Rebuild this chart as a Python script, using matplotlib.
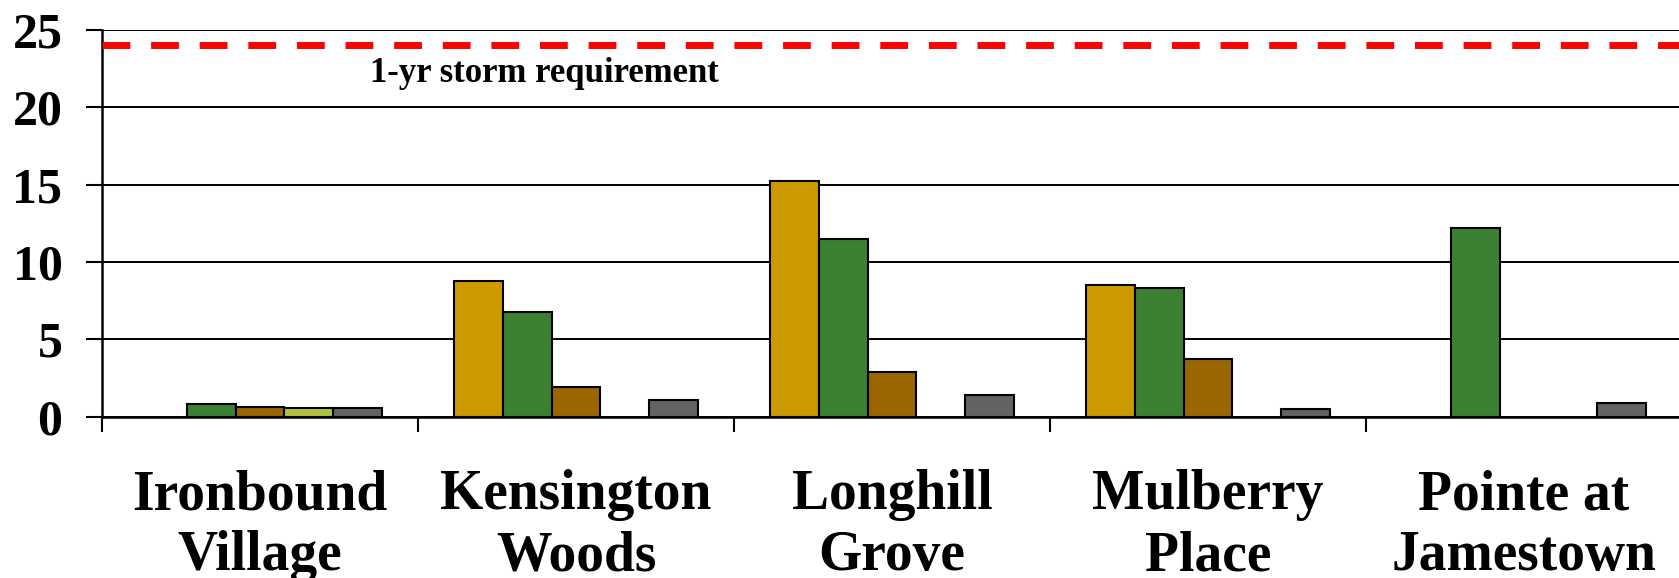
import numpy as np
import matplotlib
matplotlib.use("Agg")
import matplotlib.pyplot as plt

# Sites along the x axis
categories = ["Ironbound\nVillage", "Kensington\nWoods", "Longhill\nGrove",
              "Mulberry\nPlace", "Pointe at\nJamestown"]

# Values per series (NaN = no bar)
gold_vals = [np.nan, 8.8, 15.25, 8.5, np.nan]
green_vals = [0.85, 6.8, 11.5, 8.3, 12.2]
brown_vals = [0.65, 1.9, 2.9, 3.7, np.nan]
olive_vals = [0.55, np.nan, np.nan, np.nan, np.nan]
gray_vals = [0.55, 1.05, 1.4, 0.5, 0.9]

requirement = 24
requirement_label = "1-yr storm requirement"
y_ticks = [0, 5, 10, 15, 20, 25]

series = [gold_vals, green_vals, brown_vals, olive_vals, gray_vals]
colors = ["#CC9900", "#3C8033", "#996600", "#B3C23C", "#636363"]

plt.rcParams["font.family"] = ["Liberation Serif", "DejaVu Serif"]
plt.rcParams["font.weight"] = "bold"
plt.rcParams["lines.scale_dashes"] = False

fig = plt.figure(figsize=(16.79, 5.78), dpi=100)
ax = fig.add_axes([102 / 1679, 1 - 416.7 / 578, 1580 / 1679, (416.7 - 30) / 578])

x = np.arange(len(categories))
width = 0.155
for i, (vals, col) in enumerate(zip(series, colors)):
    vals = np.asarray(vals, dtype=float)
    mask = ~np.isnan(vals)
    ax.bar(x[mask] + (i - 2) * width, vals[mask], width=width, color=col,
           edgecolor="black", linewidth=1.5, zorder=3)

# Requirement line and its label
ax.axhline(requirement, color="#FF0000", linewidth=5, dashes=(20, 15),
           dash_capstyle="butt", zorder=4)
ax.text(0.90, 22.2, requirement_label, ha="center", va="center",
        fontsize=25, fontweight="bold", color="black", zorder=5)

ax.set_xlim(-0.5, len(categories) - 0.5)
ax.set_ylim(0, 25)
ax.set_yticks(y_ticks)
ax.set_yticklabels([str(t) for t in y_ticks])
ax.yaxis.grid(True, color="black", linewidth=1.4)
ax.set_axisbelow(True)

ax.set_xticks(x)
ax.set_xticklabels(categories, fontsize=40, fontweight="bold", linespacing=1.22)
ax.set_xticks(np.arange(len(categories) + 1) - 0.5, minor=True)
ax.tick_params(axis="x", which="major", length=0, pad=38)
ax.tick_params(axis="x", which="minor", length=11, width=1.5, color="black")
ax.tick_params(axis="y", length=11.5, width=1.5, color="black", pad=17,
               labelsize=36)

for side in ("top", "right"):
    ax.spines[side].set_visible(False)
for side in ("left", "bottom"):
    ax.spines[side].set_color("black")
    ax.spines[side].set_linewidth(1.8)

fig.savefig("out.png", dpi=100, facecolor="white")
